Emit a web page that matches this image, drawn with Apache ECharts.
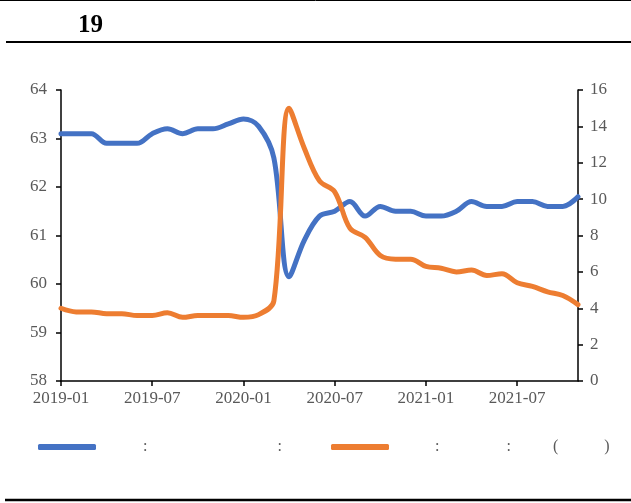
<!DOCTYPE html>
<html>
<head>
<meta charset="utf-8">
<script src="https://cdn.jsdelivr.net/npm/echarts@6/dist/echarts.min.js"></script>
<style>
  html, body { margin: 0; padding: 0; background: #fff; }
  #chart { width: 631px; height: 503px; }
</style>
</head>
<body>
<div id="chart"></div>
<script>
// 月份 2019-01 ~ 2021-11
var months = [
  '2019-01', '2019-02', '2019-03', '2019-04', '2019-05', '2019-06',
  '2019-07', '2019-08', '2019-09', '2019-10', '2019-11', '2019-12',
  '2020-01', '2020-02', '2020-03', '2020-04', '2020-05', '2020-06',
  '2020-07', '2020-08', '2020-09', '2020-10', '2020-11', '2020-12',
  '2021-01', '2021-02', '2021-03', '2021-04', '2021-05', '2021-06',
  '2021-07', '2021-08', '2021-09', '2021-10', '2021-11'
]
// 左轴 (蓝线)
var blueValues = [
  63.1, 63.1, 63.1, 62.9, 62.9, 62.9, 63.1, 63.2, 63.1, 63.2, 63.2, 63.3,
  63.4, 63.25, 62.6, 60.15, 60.9, 61.4, 61.5, 61.7, 61.4, 61.6, 61.5, 61.5,
  61.4, 61.4, 61.5, 61.7, 61.6, 61.6, 61.7, 61.7, 61.6, 61.6, 61.8
]
// 右轴 (橙线)
var orangeValues = [
  4.0, 3.8, 3.8, 3.7, 3.7, 3.6, 3.6, 3.75, 3.5, 3.6, 3.6, 3.6,
  3.5, 3.65, 4.4, 15.0, 12.8, 11.0, 10.4, 8.4, 7.9, 6.9, 6.7, 6.7,
  6.3, 6.2, 6.0, 6.1, 5.8, 5.9, 5.4, 5.2, 4.9, 4.7, 4.2
]
var leftTicks = { min: 58, max: 64, interval: 1 }
var rightTicks = { min: 0, max: 16, interval: 2 }

var serif = '"Liberation Serif", "Times New Roman", serif'
var charts = echarts.init(document.getElementById('chart'))

var option = {
  animation: false,
  title: {
    text: '19',
    left: 73,
    top: 8,
    textStyle: { fontFamily: serif, fontSize: 25, fontWeight: 'bold', color: '#000' }
  },
  graphic: [
    { type: 'line', shape: { x1: 0, y1: 0.5, x2: 631, y2: 0.5 }, style: { stroke: '#000', lineWidth: 1 } },
    { type: 'line', shape: { x1: 6, y1: 42, x2: 631, y2: 42 }, style: { stroke: '#000', lineWidth: 2 } },
    { type: 'line', shape: { x1: 5, y1: 500, x2: 631, y2: 500 }, style: { stroke: '#000', lineWidth: 2.5 } }
  ],
  legend: [
    {
      data: ['blue'],
      left: 38,
      top: 439,
      padding: 0,
      icon: 'roundRect',
      itemWidth: 58,
      itemHeight: 6,
      itemGap: 0,
      formatter: function () { return '{g|}{c|:}{w|}{c|:}' },
      textStyle: {
        rich: {
          g: { width: 42 },
          w: { width: 130 },
          c: { fontFamily: serif, fontSize: 16, color: '#595959' }
        }
      }
    },
    {
      data: ['orange'],
      left: 331,
      top: 439,
      padding: 0,
      icon: 'roundRect',
      itemWidth: 58,
      itemHeight: 6,
      itemGap: 0,
      formatter: function () { return '{g|}{c|:}{w|}{c|:}{x|}{c|(}{y|}{c|)}' },
      textStyle: {
        rich: {
          g: { width: 41 },
          w: { width: 67 },
          x: { width: 42 },
          y: { width: 46 },
          c: { fontFamily: serif, fontSize: 16, color: '#595959' }
        }
      }
    }
  ],
  grid: { left: 61, right: 53, top: 90, bottom: 122, containLabel: false },
  xAxis: {
    type: 'category',
    data: months,
    boundaryGap: false,
    axisLine: { lineStyle: { color: '#000', width: 1.5 } },
    axisTick: { show: true, interval: 5, length: 5, lineStyle: { color: '#000', width: 1.5 } },
    axisLabel: { interval: 5, margin: 9, fontFamily: serif, fontSize: 17, color: '#595959' },
    splitLine: { show: false }
  },
  yAxis: [
    {
      type: 'value',
      min: leftTicks.min,
      max: leftTicks.max,
      interval: leftTicks.interval,
      axisLine: { show: true, lineStyle: { color: '#000', width: 1.5 } },
      axisTick: { show: true, length: 5, lineStyle: { color: '#000', width: 1.5 } },
      axisLabel: { margin: 14, fontFamily: serif, fontSize: 17, color: '#595959' },
      splitLine: { show: false }
    },
    {
      type: 'value',
      position: 'right',
      min: rightTicks.min,
      max: rightTicks.max,
      interval: rightTicks.interval,
      axisLine: { show: true, lineStyle: { color: '#000', width: 1.5 } },
      axisTick: { show: true, length: 5, lineStyle: { color: '#000', width: 1.5 } },
      axisLabel: { margin: 12, fontFamily: serif, fontSize: 17, color: '#595959' },
      splitLine: { show: false }
    }
  ],
  series: [
    {
      name: 'blue',
      type: 'line',
      yAxisIndex: 0,
      data: blueValues,
      smooth: 0.35,
      showSymbol: false,
      itemStyle: { color: '#4472C4' },
      lineStyle: { color: '#4472C4', width: 5, cap: 'round', join: 'round' }
    },
    {
      name: 'orange',
      type: 'line',
      yAxisIndex: 1,
      data: orangeValues,
      smooth: 0.35,
      showSymbol: false,
      itemStyle: { color: '#ED7D31' },
      lineStyle: { color: '#ED7D31', width: 5, cap: 'round', join: 'round' }
    }
  ]
}

charts.setOption(option)
window.addEventListener('resize', function () {
  charts.resize()
})
</script>
</body>
</html>
